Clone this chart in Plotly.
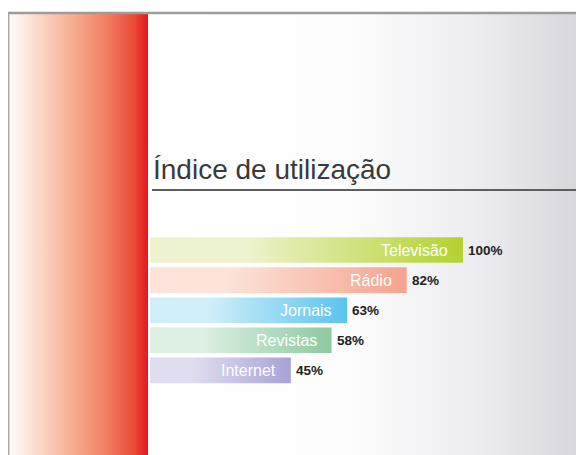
import plotly.graph_objects as go

# ---- data ----
categories = ["Televisão", "Rádio", "Jornais", "Revistas", "Internet"]
values = [100, 82, 63, 58, 45]
value_labels = ["100%", "82%", "63%", "58%", "45%"]
title_text = "Índice de utilização"

# ---- styles ----
bar_dark = ["#b3d232", "#f4a38d", "#5cc3ee", "#8dc9a1", "#a9a2d6"]
bar_light = ["#eef3cf", "#fde3da", "#d0eef9", "#dcefe2", "#e0ddf1"]

WIN_W, WIN_H = 584, 455
OFF = 8                       # page body margin
W, H = WIN_W - OFF, WIN_H - OFF
px_per_unit = 3.13            # bar scale
x_zero_px = 150               # where value 0 sits (window px)
row0_px, row_step = 250, 30.1
half_h = 0.425

fig = go.Figure()

# ---- decorations on pixel axes (x, y) in window pixels ----
fig.add_trace(go.Scatter(
    x=[150, WIN_W, WIN_W, 150, 150], y=[14, 14, WIN_H, WIN_H, 14],
    fill="toself", mode="lines", line=dict(width=0),
    fillgradient=dict(type="horizontal",
                      colorscale=[[0, "#ffffff"], [0.45, "#fdfdfd"], [0.75, "#ededf1"], [1, "#d5d5db"]]),
    hoverinfo="skip", xaxis="x", yaxis="y"))
fig.add_trace(go.Scatter(
    x=[10, 148, 148, 10, 10], y=[14, 14, WIN_H, WIN_H, 14],
    fill="toself", mode="lines", line=dict(width=0),
    fillgradient=dict(type="horizontal",
                      colorscale=[[0, "#fffaf8"], [0.2, "#fcd9cb"], [0.45, "#f6ae92"],
                                  [0.7, "#f17f62"], [0.9, "#ec4a36"], [1, "#e5161f"]]),
    hoverinfo="skip", xaxis="x", yaxis="y"))

# ---- bars on data axes (x2, y2) ----
for i, (cat, v) in enumerate(zip(categories, values)):
    fig.add_trace(go.Scatter(
        x=[0, v, v, 0, 0], y=[i - half_h, i - half_h, i + half_h, i + half_h, i - half_h],
        fill="toself", mode="lines", line=dict(width=0),
        fillgradient=dict(type="horizontal",
                          colorscale=[[0, bar_light[i]], [0.3, bar_light[i]], [1, bar_dark[i]]]),
        name=cat, hoverinfo="skip", xaxis="x2", yaxis="y2"))

annotations = []
for i, (cat, v, lab) in enumerate(zip(categories, values, value_labels)):
    annotations.append(dict(x=v, y=i, xref="x2", yref="y2", text=cat, showarrow=False,
                            xanchor="right", yanchor="middle", xshift=-13,
                            font=dict(family="Liberation Sans, Arial", size=16, color="#ffffff")))
    annotations.append(dict(x=v, y=i, xref="x2", yref="y2", text="<b>" + lab + "</b>", showarrow=False,
                            xanchor="left", yanchor="middle", xshift=3,
                            font=dict(family="Liberation Sans, Arial", size=13.5, color="#222222")))

annotations.append(dict(x=151, y=187, xref="x", yref="y", text=title_text, showarrow=False,
                        xanchor="left", yanchor="bottom",
                        font=dict(family="Liberation Sans, Arial", size=28, color="#3a3a3a", weight=300)))

shapes = [
    dict(type="line", xref="x", yref="y", x0=152, x1=WIN_W, y0=190, y1=190,
         line=dict(color="#5e5e5e", width=2)),
    dict(type="line", xref="x", yref="y", x0=8, x1=WIN_W, y0=13, y1=13,
         line=dict(color="#9c9c9c", width=2.5)),
    dict(type="line", xref="x", yref="y", x0=8.5, x1=8.5, y0=13, y1=WIN_H,
         line=dict(color="#a8a8a8", width=2)),
]

x2_range = [(OFF - x_zero_px) / px_per_unit, (WIN_W - x_zero_px) / px_per_unit]
y2_range = [(WIN_H - row0_px) / row_step, (OFF - row0_px) / row_step]

hidden = dict(visible=False, showgrid=False, zeroline=False, fixedrange=True)
fig.update_layout(
    width=W, height=H,
    margin=dict(l=0, r=0, t=0, b=0),
    paper_bgcolor="#ffffff", plot_bgcolor="#ffffff",
    showlegend=False,
    xaxis=dict(range=[OFF, WIN_W], domain=[0, 1], **hidden),
    yaxis=dict(range=[WIN_H, OFF], domain=[0, 1], **hidden),
    xaxis2=dict(range=x2_range, overlaying="x", **hidden),
    yaxis2=dict(range=y2_range, overlaying="y", **hidden),
    annotations=annotations,
    shapes=shapes,
)

fig.write_html("out.html")
